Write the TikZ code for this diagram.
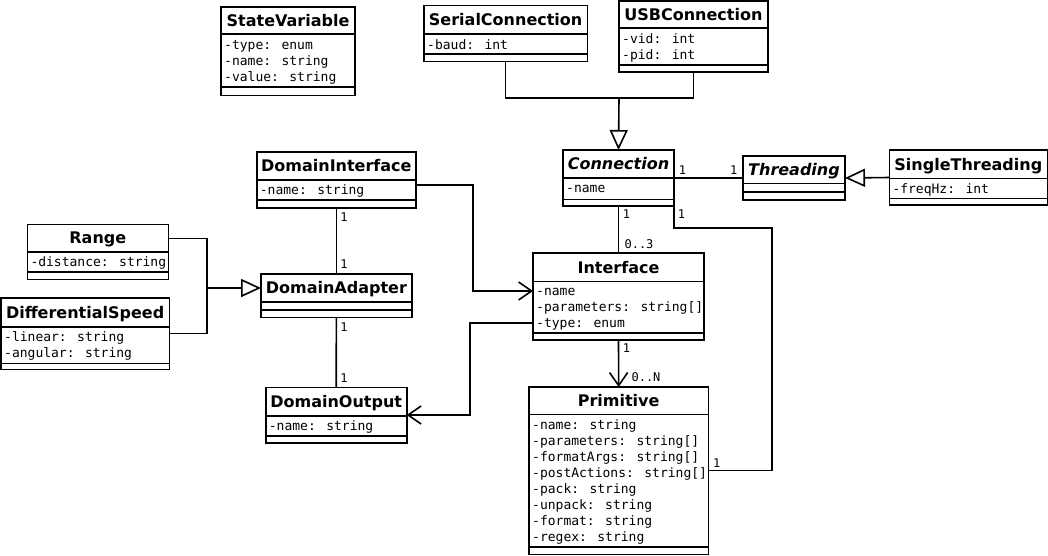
\documentclass[tikz,border=0pt]{standalone}
\usepackage{fontspec}
\newfontfamily\umlsans{DejaVu Sans}
\newfontfamily\umlmono{DejaVu Sans Mono}
\usetikzlibrary{arrows.meta}

\begin{document}
\begin{tikzpicture}[
  x=1pt, y=-1pt,
  classbox/.style={rectangle, draw=black, line width=1.6pt, fill=white,
                   anchor=north west, inner sep=0pt, outer sep=0pt},
  classname/.style={font=\umlsans\bfseries\fontsize{16pt}{18pt}\selectfont,
                    inner sep=0pt, text height=11.7pt, text depth=0pt},
  absname/.style={classname,
                  font=\umlsans\bfseries\itshape\fontsize{16pt}{18pt}\selectfont},
  members/.style={font=\umlmono\fontsize{13pt}{16pt}\selectfont,
                  anchor=north west, align=left, inner sep=0pt},
  divider/.style={line width=1.6pt},
  mult/.style={font=\umlmono\fontsize{12pt}{14pt}\selectfont, inner sep=0pt},
  link/.style={line width=1.6pt},
  inherits/.style={link, -{Triangle[open, length=20pt, width=18pt]}},
  navigates/.style={link, -{Straight Barb[length=13pt, width=18pt]}}
]
\useasboundingbox[fill=white] (0,0) rectangle (1048,556);

% CLASSES: box, name, dividers, members
\node[classbox, minimum width=134pt, minimum height=88.7pt] (sv) at (221,7) {};
\node[classname] (sv-name) at ([yshift=-13.7pt]sv.north) {StateVariable};
\draw[divider] ([yshift=-27.3pt]sv.north west) -- ([yshift=-27.3pt]sv.north east);
\draw[divider] ([yshift=-80.3pt]sv.north west) -- ([yshift=-80.3pt]sv.north east);
\node[members] (sv-attr) at ([xshift=3pt,yshift=-31.5pt]sv.north west) {\strut-type: enum\\-name: string\\-value: string};

\node[classbox, minimum width=163.3pt, minimum height=56pt] (serial) at (424,5.7) {};
\node[classname] (serial-name) at ([yshift=-14.2pt]serial.north) {SerialConnection};
\draw[divider] ([yshift=-28.3pt]serial.north west) -- ([yshift=-28.3pt]serial.north east);
\draw[divider] ([yshift=-48.3pt]serial.north west) -- ([yshift=-48.3pt]serial.north east);
\node[members] (serial-attr) at ([xshift=3pt,yshift=-32pt]serial.north west) {\strut-baud: int};

\node[classbox, minimum width=148.7pt, minimum height=71.3pt] (usb) at (619,1) {};
\node[classname] (usb-name) at ([yshift=-13.7pt]usb.north) {USBConnection};
\draw[divider] ([yshift=-27.3pt]usb.north west) -- ([yshift=-27.3pt]usb.north east);
\draw[divider] ([yshift=-64pt]usb.north west) -- ([yshift=-64pt]usb.north east);
\node[members] (usb-attr) at ([xshift=3pt,yshift=-31pt]usb.north west) {\strut-vid: int\\-pid: int};

\node[classbox, minimum width=111pt, minimum height=56pt] (conn) at (563,150) {};
\node[absname] (conn-name) at ([yshift=-14pt]conn.north) {Connection};
\draw[divider] ([yshift=-28pt]conn.north west) -- ([yshift=-28pt]conn.north east);
\draw[divider] ([yshift=-49.5pt]conn.north west) -- ([yshift=-49.5pt]conn.north east);
\node[members] (conn-attr) at ([xshift=3pt,yshift=-31.5pt]conn.north west) {\strut-name};

\node[classbox, minimum width=102pt, minimum height=44pt] (thr) at (743,156) {};
\node[absname] (thr-name) at ([yshift=-13.7pt]thr.north) {Threading};
\draw[divider] ([yshift=-27.3pt]thr.north west) -- ([yshift=-27.3pt]thr.north east);
\draw[divider] ([yshift=-35.7pt]thr.north west) -- ([yshift=-35.7pt]thr.north east);

\node[classbox, minimum width=158pt, minimum height=55pt] (single) at (889.3,150) {};
\node[classname] (single-name) at ([yshift=-14.3pt]single.north) {SingleThreading};
\draw[divider] ([yshift=-28.5pt]single.north west) -- ([yshift=-28.5pt]single.north east);
\draw[divider] ([yshift=-48.5pt]single.north west) -- ([yshift=-48.5pt]single.north east);
\node[members] (single-attr) at ([xshift=3pt,yshift=-32pt]single.north west) {\strut-freqHz: int};

\node[classbox, minimum width=159.3pt, minimum height=56pt] (dint) at (256.7,152) {};
\node[classname] (dint-name) at ([yshift=-14pt]dint.north) {DomainInterface};
\draw[divider] ([yshift=-28pt]dint.north west) -- ([yshift=-28pt]dint.north east);
\draw[divider] ([yshift=-48pt]dint.north west) -- ([yshift=-48pt]dint.north east);
\node[members] (dint-attr) at ([xshift=3pt,yshift=-31.5pt]dint.north west) {\strut-name: string};

\node[classbox, minimum width=141pt, minimum height=55pt] (range) at (27.3,224.3) {};
\node[classname] (range-name) at ([yshift=-13.7pt]range.north) {Range};
\draw[divider] ([yshift=-27.4pt]range.north west) -- ([yshift=-27.4pt]range.north east);
\draw[divider] ([yshift=-47.4pt]range.north west) -- ([yshift=-47.4pt]range.north east);
\node[members] (range-attr) at ([xshift=3pt,yshift=-31pt]range.north west) {\strut-distance: string};

\node[classbox, minimum width=168.3pt, minimum height=71.6pt] (diff) at (1,297.7) {};
\node[classname] (diff-name) at ([yshift=-14.5pt]diff.north) {DifferentialSpeed};
\draw[divider] ([yshift=-29pt]diff.north west) -- ([yshift=-29pt]diff.north east);
\draw[divider] ([yshift=-65.6pt]diff.north west) -- ([yshift=-65.6pt]diff.north east);
\node[members] (diff-attr) at ([xshift=3pt,yshift=-32.5pt]diff.north west) {\strut-linear: string\\-angular: string};

\node[classbox, minimum width=150.7pt, minimum height=43.3pt] (dadapt) at (261,274) {};
\node[classname] (dadapt-name) at ([yshift=-13.8pt]dadapt.north) {DomainAdapter};
\draw[divider] ([yshift=-27.7pt]dadapt.north west) -- ([yshift=-27.7pt]dadapt.north east);
\draw[divider] ([yshift=-36pt]dadapt.north west) -- ([yshift=-36pt]dadapt.north east);

\node[classbox, minimum width=141pt, minimum height=55.4pt] (dout) at (265.7,387.3) {};
\node[classname] (dout-name) at ([yshift=-14.3pt]dout.north) {DomainOutput};
\draw[divider] ([yshift=-28.7pt]dout.north west) -- ([yshift=-28.7pt]dout.north east);
\draw[divider] ([yshift=-48.4pt]dout.north west) -- ([yshift=-48.4pt]dout.north east);
\node[members] (dout-attr) at ([xshift=3pt,yshift=-32.2pt]dout.north west) {\strut-name: string};

\node[classbox, minimum width=171pt, minimum height=87pt] (iface) at (533,253) {};
\node[classname] (iface-name) at ([yshift=-14.2pt]iface.north) {Interface};
\draw[divider] ([yshift=-28.5pt]iface.north west) -- ([yshift=-28.5pt]iface.north east);
\draw[divider] ([yshift=-79.7pt]iface.north west) -- ([yshift=-79.7pt]iface.north east);
\node[members] (iface-attr) at ([xshift=3pt,yshift=-31.5pt]iface.north west) {\strut-name\\-parameters: string[]\\-type: enum};

\node[classbox, minimum width=179.3pt, minimum height=167.3pt] (prim) at (529,387) {};
\node[classname] (prim-name) at ([yshift=-13.7pt]prim.north) {Primitive};
\draw[divider] ([yshift=-27.3pt]prim.north west) -- ([yshift=-27.3pt]prim.north east);
\draw[divider] ([yshift=-159.7pt]prim.north west) -- ([yshift=-159.7pt]prim.north east);
\node[members] (prim-attr) at ([xshift=3pt,yshift=-31pt]prim.north west) {\strut-name: string\\-parameters: string[]\\-formatArgs: string[]\\-postActions: string[]\\-pack: string\\-unpack: string\\-format: string\\-regex: string};

% GENERALISATIONS
\coordinate (conn-join) at (619,98);
\draw[link] (serial.south) |- (conn-join) -| (usb.south);
\draw[inherits] (conn-join) -- (conn.north);
\draw[inherits] (single.west) -- (thr.east);
\coordinate (dom-join) at (207,288);
\draw[link] ([yshift=13.5pt]range.east) -| (dom-join);
\draw[link] (diff.east) -| (dom-join);
\draw[inherits] (dom-join) -- (dom-join -| dadapt.west);

% ASSOCIATIONS
\draw[link] (conn.east) -- (thr.west);
\draw[link] (conn.south) -- (iface.north);
\coordinate (prim-bend) at (772,228);
\draw[link] (conn.south east) |- (prim-bend) |- (prim.east);
\draw[navigates] (iface.south) -- (prim.north);
\draw[link] (dint.south) -- (dadapt.north);
\draw[link] (dadapt.south) -- (dout.north);
\draw[navigates] ([yshift=-5pt]dint.east) -- ++(57,0) |- ([yshift=5.5pt]iface.west);
\draw[navigates] ([yshift=-26.5pt]iface.west) -- ++(-63,0) |- (dout.east);

% MULTIPLICITIES
\node[mult] (m-conn-thr) at (682.5,170) {1};
\node[mult] (m-thr-conn) at (733.8,170) {1};
\node[mult] (m-conn-iface) at (626.5,214.5) {1};
\node[mult] (m-iface-conn) at (639,244.5) {0..3};
\node[mult] (m-conn-prim) at (681.5,214.5) {1};
\node[mult] (m-iface-prim) at (626.5,348.5) {1};
\node[mult] (m-prim-iface) at (646,377.3) {0..N};
\node[mult] (m-prim-conn) at (716.7,462.7) {1};
\node[mult] (m-dint-dadapt) at (344,216.7) {1};
\node[mult] (m-dadapt-dint) at (344,264.3) {1};
\node[mult] (m-dadapt-dout) at (344,326.7) {1};
\node[mult] (m-dout-dadapt) at (344,378.3) {1};
\end{tikzpicture}
\end{document}
